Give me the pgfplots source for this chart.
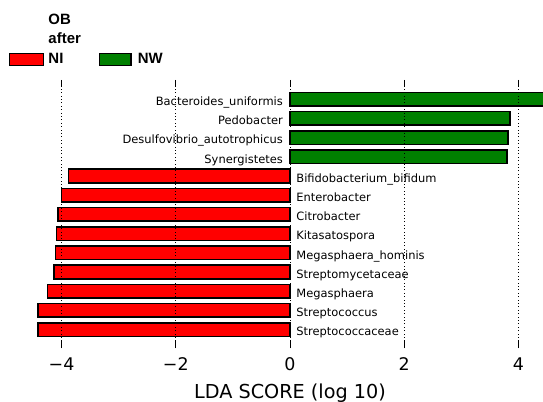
\documentclass[border=0pt]{standalone}
\usepackage{pgfplots}
\pgfplotsset{compat=1.18}
\usepackage{pgfplotstable}
\usepackage{fontspec}
\setmainfont{DejaVu Sans}
\newfontfamily\legfont{Liberation Sans}
\definecolor{nwgreen}{RGB}{0,128,0}
\definecolor{nired}{RGB}{255,0,0}

\pgfplotstableread{
y x
12 4.50
11 3.85
10 3.82
9 3.80
}\nwdata

\pgfplotstableread{
y x
8 -3.88
7 -4.00
6 -4.06
5 -4.09
4 -4.11
3 -4.13
2 -4.25
1 -4.41
0 -4.41
}\nidata

\begin{document}
\begin{tikzpicture}
\useasboundingbox (-37bp,-54bp) rectangle (506bp,348bp);
\begin{axis}[
  at={(0,0)}, anchor=south west,
  scale only axis,
  width=506bp, height=268bp,
  xmin=-4.43, xmax=4.43,
  ymin=-0.96, ymax=13.0,
  ytick=\empty,
  xtick={-4,-2,0,2,4},
  xticklabels={−4,−2,0,2,4},
  axis line style={draw=none},
  tick align=inside,
  major tick length=7bp,
  tick style={black, line width=0.6bp},
  xmajorgrids,
  major grid style={black, line width=0.7bp, dash pattern=on 0.8bp off 2.6bp},
  axis on top,
  xticklabel style={font=\fontsize{17.5}{20}\selectfont, anchor=base, yshift=-22.7bp, inner sep=0pt},
  xlabel={LDA SCORE (log 10)},
  xlabel style={font=\fontsize{19.3}{22}\selectfont, at={(axis description cs:0.5,-0.189)}, anchor=base, inner sep=0pt},
  clip=true,
]
\addplot[xbar, bar width=13.6bp, bar shift=0pt, fill=nwgreen, draw=black, line width=1.5bp] table[x=x,y=y]{\nwdata};
\addplot[xbar, bar width=13.6bp, bar shift=0pt, fill=nired, draw=black, line width=1.5bp] table[x=x,y=y]{\nidata};
\begin{scope}[every node/.style={font=\fontsize{11.5}{13}\selectfont, inner sep=0pt}]
\node[anchor=base east, xshift=-7bp, yshift=-6.4bp] at (axis cs:0,12) {Bacteroides\_uniformis};
\node[anchor=base east, xshift=-7bp, yshift=-6.4bp] at (axis cs:0,11) {Pedobacter};
\node[anchor=base east, xshift=-7bp, yshift=-6.4bp] at (axis cs:0,10) {Desulfovibrio\_autotrophicus};
\node[anchor=base east, xshift=-7bp, yshift=-6.4bp] at (axis cs:0,9) {Synergistetes};
\node[anchor=base west, xshift=6.2bp, yshift=-6.4bp] at (axis cs:0,8) {Bifidobacterium\_bifidum};
\node[anchor=base west, xshift=6.2bp, yshift=-6.4bp] at (axis cs:0,7) {Enterobacter};
\node[anchor=base west, xshift=6.2bp, yshift=-6.4bp] at (axis cs:0,6) {Citrobacter};
\node[anchor=base west, xshift=6.2bp, yshift=-6.4bp] at (axis cs:0,5) {Kitasatospora};
\node[anchor=base west, xshift=6.2bp, yshift=-6.4bp] at (axis cs:0,4) {Megasphaera\_hominis};
\node[anchor=base west, xshift=6.2bp, yshift=-6.4bp] at (axis cs:0,3) {Streptomycetaceae};
\node[anchor=base west, xshift=6.2bp, yshift=-6.4bp] at (axis cs:0,2) {Megasphaera};
\node[anchor=base west, xshift=6.2bp, yshift=-6.4bp] at (axis cs:0,1) {Streptococcus};
\node[anchor=base west, xshift=6.2bp, yshift=-6.4bp] at (axis cs:0,0) {Streptococcaceae};
\end{scope}
\end{axis}
% legend
\draw[fill=nired, draw=black, line width=1.4bp] (-27.7bp,282.3bp) rectangle (6.3bp,294.7bp);
\draw[fill=nwgreen, draw=black, line width=1.4bp] (62.3bp,282.3bp) rectangle (94bp,294.7bp);
\begin{scope}[every node/.style={font=\legfont\bfseries\fontsize{15}{18}\selectfont, inner sep=0pt, anchor=base west}]
\node at (11.3bp,323bp) {OB};
\node at (11.3bp,304bp) {after};
\node at (11.3bp,284bp) {NI};
\node at (100.7bp,284bp) {NW};
\end{scope}
\end{tikzpicture}
\end{document}
